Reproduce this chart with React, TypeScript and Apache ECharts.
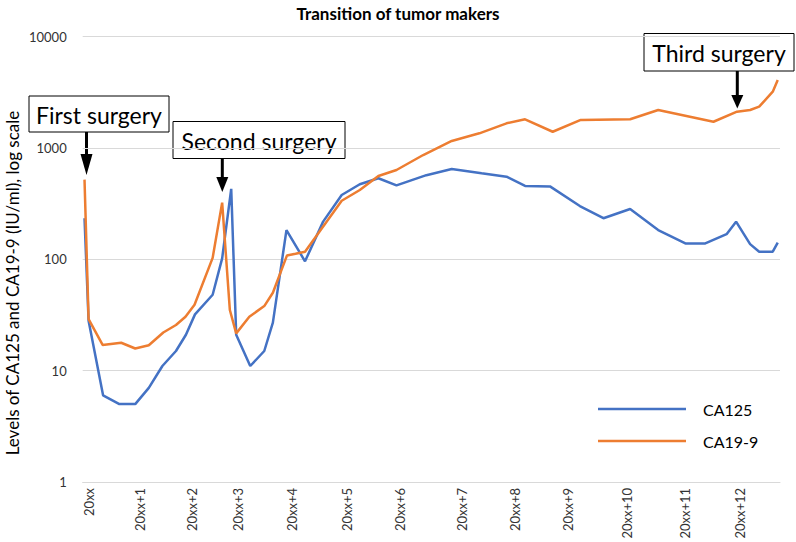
import React, { useEffect, useRef } from "react";
import * as echarts from "echarts";

// time position (approx. months from start) and value
const ca125: [number, number][] = [
  [0.4, 234], [1.3, 28], [4.5, 6], [8.1, 5], [11.6, 5], [14.6, 7], [17.6, 11], [20.6, 15],
  [22.8, 21], [24.8, 32], [28.7, 48], [30.8, 102], [32.8, 430], [33.9, 21], [37.0, 11],
  [40.1, 15], [42.0, 27], [45.0, 183], [49.1, 96], [53.1, 218], [57.2, 378], [61.2, 472],
  [65.3, 535], [69.3, 462], [75.9, 570], [81.5, 648], [88.1, 593], [93.6, 552], [97.7, 456],
  [103.2, 452], [109.8, 301], [115.0, 234], [120.9, 283], [127.1, 183], [133.1, 139],
  [137.5, 139], [142.2, 168], [144.3, 218], [147.4, 137], [149.4, 117], [152.4, 117], [153.5, 141],
];

const ca199: [number, number][] = [
  [0.4, 520], [1.3, 29], [4.4, 17], [8.5, 17.8], [11.6, 15.8], [14.6, 16.9], [17.8, 22],
  [20.6, 25.7], [22.7, 30.5], [24.7, 39], [28.7, 103], [30.8, 323], [32.5, 35], [33.9, 21.6],
  [36.8, 30.5], [40.1, 38], [42.0, 50], [45.1, 108], [47.0, 112], [49.1, 117], [57.2, 336],
  [61.2, 419], [65.3, 560], [69.3, 634], [75.2, 865], [81.5, 1156], [87.6, 1355], [93.6, 1667],
  [97.7, 1811], [103.8, 1400], [110.0, 1786], [120.9, 1811], [127.1, 2195], [139.3, 1722],
  [144.5, 2120], [147.4, 2195], [149.4, 2350], [152.4, 3206], [153.5, 4083],
];

const yearTicks = [1.4, 12.7, 24.1, 34.4, 46.3, 58.3, 70.1, 83.7, 95.4, 107.2, 120.1, 133.0, 145.2];
const yearLabels = [
  "20xx", "20xx+1", "20xx+2", "20xx+3", "20xx+4", "20xx+5", "20xx+6",
  "20xx+7", "20xx+8", "20xx+9", "20xx+10", "20xx+11", "20xx+12",
];

const FONT = "Lato, 'Open Sans', sans-serif";

function box(x: number, y: number, w: number, h: number, label: string) {
  return {
    type: "group",
    children: [
      { type: "rect", shape: { x, y, width: w, height: h }, style: { fill: "#fff", stroke: "#000", lineWidth: 1 } },
      {
        type: "text",
        x: x + w / 2,
        y: y + h / 2 + 1,
        style: { text: label, fill: "#000", font: `23px ${FONT}`, align: "center", verticalAlign: "middle" },
      },
    ],
  };
}

function arrow(x: number, y0: number, yHead: number, yTip: number) {
  return {
    type: "group",
    children: [
      { type: "line", shape: { x1: x, y1: y0, x2: x, y2: yHead + 1 }, style: { stroke: "#000", lineWidth: 3 } },
      { type: "polygon", shape: { points: [[x - 6, yHead], [x + 6, yHead], [x, yTip]] }, style: { fill: "#000" } },
    ],
  };
}

export default function App() {
  const ref = useRef<HTMLDivElement>(null);
  useEffect(() => {
    document.body.style.margin = "0";
    const chart = echarts.init(ref.current!, undefined, { renderer: "svg" });
    chart.setOption({
      animation: false,
      backgroundColor: "#fff",
      title: {
        text: "Transition of tumor makers",
        left: "center",
        top: 0,
        textStyle: { fontFamily: FONT, fontSize: 17, fontWeight: "bold", color: "#000" },
      },
      grid: { left: 82.7, right: 16, top: 36.7, bottom: 60.1, containLabel: false },
      legend: {
        orient: "vertical",
        left: 593,
        top: 396,
        itemWidth: 88,
        itemHeight: 2.5,
        itemGap: 16,
        icon: "rect",
        textStyle: { fontFamily: FONT, fontSize: 16, color: "#000", padding: [0, 0, 0, 12] },
        data: ["CA125", "CA19-9"],
      },
      xAxis: {
        type: "value",
        min: 0,
        max: 154,
        axisLine: { show: true, lineStyle: { color: "#d9d9d9", width: 1 } },
        axisTick: { show: false },
        splitLine: { show: false },
        axisLabel: {
          customValues: yearTicks,
          rotate: 90,
          fontFamily: FONT,
          fontSize: 13,
          color: "#333",
          margin: 6,
          formatter: (v: number) => {
            let best = 0;
            for (let i = 0; i < yearTicks.length; i++) {
              if (Math.abs(yearTicks[i] - v) < Math.abs(yearTicks[best] - v)) best = i;
            }
            return yearLabels[best];
          },
        },
      },
      yAxis: {
        type: "log",
        logBase: 10,
        min: 1,
        max: 10000,
        axisLine: { show: false },
        axisTick: { show: false },
        splitLine: { show: true, lineStyle: { color: "#d9d9d9", width: 1 } },
        axisLabel: {
          fontFamily: FONT,
          fontSize: 13,
          color: "#333",
          margin: 16,
          formatter: (v: number) => String(Math.round(v)),
        },
      },
      series: [
        {
          name: "CA125",
          type: "line",
          data: ca125,
          symbol: "none",
          lineStyle: { width: 2.5, color: "#4472C4" },
          itemStyle: { color: "#4472C4" },
        },
        {
          name: "CA19-9",
          type: "line",
          data: ca199,
          symbol: "none",
          lineStyle: { width: 2.5, color: "#ED7D31" },
          itemStyle: { color: "#ED7D31" },
        },
      ],
      graphic: [
        {
          type: "text",
          x: 12,
          y: 283,
          rotation: Math.PI / 2,
          style: {
            text: "Levels of CA125 and CA19-9 (IU/ml), log scale",
            fill: "#000",
            font: `17px ${FONT}`,
            align: "center",
            verticalAlign: "middle",
          },
        },
        box(29, 96, 140, 36, "First surgery"),
        box(173, 121.5, 172, 37, "Second surgery"),
        box(644, 33.5, 150, 37.5, "Third surgery"),
        arrow(86.5, 132, 154, 175),
        arrow(222.3, 158.5, 177, 192),
        arrow(737.3, 71, 95, 108.5),
      ],
    });
    return () => chart.dispose();
  }, []);
  return <div ref={ref} style={{ width: 796, height: 542 }} />;
}
